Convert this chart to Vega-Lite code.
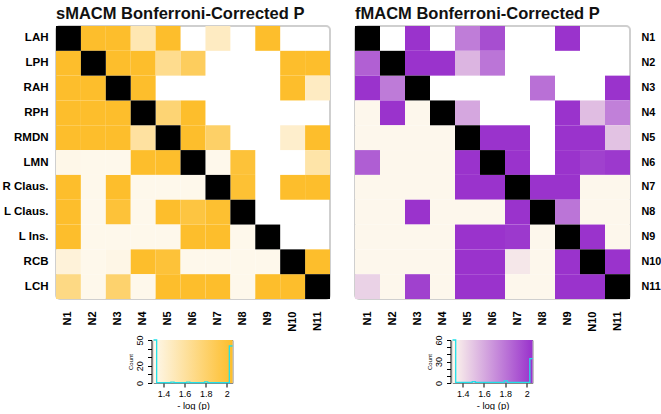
{
"$schema": "https://vega.github.io/schema/vega-lite/v6.json",
"autosize": {"type": "pad"},
"padding": {"left": 0, "top": 4, "right": 0, "bottom": 0},
"background": "white",
"config": {"font": "Liberation Sans", "view": {"stroke": null}, "axis": {"labelColor": "#000", "titleColor": "#000", "grid": false}},
"datasets": {
"s": [
{"r":"LAH","c":"N1","d":1},{"r":"LAH","c":"N2","v":2.05},{"r":"LAH","c":"N3","v":2.05},{"r":"LAH","c":"N4","v":1.53},{"r":"LAH","c":"N5","v":2.05},{"r":"LAH","c":"N7","v":1.47},{"r":"LAH","c":"N9","v":2.05},
{"r":"LPH","c":"N1","v":2.05},{"r":"LPH","c":"N2","d":1},{"r":"LPH","c":"N3","v":2.05},{"r":"LPH","c":"N4","v":2.05},{"r":"LPH","c":"N5","v":1.67},{"r":"LPH","c":"N6","v":1.86},{"r":"LPH","c":"N10","v":2.05},{"r":"LPH","c":"N11","v":2.05},
{"r":"RAH","c":"N1","v":2.05},{"r":"RAH","c":"N2","v":2.05},{"r":"RAH","c":"N3","d":1},{"r":"RAH","c":"N4","v":2.05},{"r":"RAH","c":"N10","v":2.05},{"r":"RAH","c":"N11","v":1.47},
{"r":"RPH","c":"N1","v":2.05},{"r":"RPH","c":"N2","v":2.05},{"r":"RPH","c":"N3","v":2.05},{"r":"RPH","c":"N4","d":1},{"r":"RPH","c":"N5","v":1.77},{"r":"RPH","c":"N6","v":2.05},
{"r":"RMDN","c":"N1","v":2.05},{"r":"RMDN","c":"N2","v":2.05},{"r":"RMDN","c":"N3","v":2.05},{"r":"RMDN","c":"N4","v":1.6},{"r":"RMDN","c":"N5","d":1},{"r":"RMDN","c":"N6","v":2.05},{"r":"RMDN","c":"N7","v":1.82},{"r":"RMDN","c":"N10","v":1.43},{"r":"RMDN","c":"N11","v":2.05},
{"r":"LMN","c":"N1","v":1.32},{"r":"LMN","c":"N2","v":1.31},{"r":"LMN","c":"N3","v":1.31},{"r":"LMN","c":"N4","v":2.05},{"r":"LMN","c":"N5","v":2.05},{"r":"LMN","c":"N6","d":1},{"r":"LMN","c":"N7","v":1.31},{"r":"LMN","c":"N8","v":2.0},{"r":"LMN","c":"N11","v":1.57},
{"r":"R Claus.","c":"N1","v":2.05},{"r":"R Claus.","c":"N2","v":1.31},{"r":"R Claus.","c":"N3","v":2.05},{"r":"R Claus.","c":"N4","v":1.31},{"r":"R Claus.","c":"N5","v":1.31},{"r":"R Claus.","c":"N6","v":1.31},{"r":"R Claus.","c":"N7","d":1},{"r":"R Claus.","c":"N8","v":2.02},{"r":"R Claus.","c":"N10","v":2.05},{"r":"R Claus.","c":"N11","v":2.05},
{"r":"L Claus.","c":"N1","v":2.05},{"r":"L Claus.","c":"N2","v":1.31},{"r":"L Claus.","c":"N3","v":2.0},{"r":"L Claus.","c":"N4","v":1.31},{"r":"L Claus.","c":"N5","v":2.05},{"r":"L Claus.","c":"N6","v":1.97},{"r":"L Claus.","c":"N7","v":2.03},{"r":"L Claus.","c":"N8","d":1},
{"r":"L Ins.","c":"N1","v":2.05},{"r":"L Ins.","c":"N2","v":1.31},{"r":"L Ins.","c":"N3","v":1.31},{"r":"L Ins.","c":"N4","v":1.31},{"r":"L Ins.","c":"N5","v":1.31},{"r":"L Ins.","c":"N6","v":2.05},{"r":"L Ins.","c":"N7","v":2.05},{"r":"L Ins.","c":"N8","v":1.31},{"r":"L Ins.","c":"N9","d":1},
{"r":"RCB","c":"N1","v":1.38},{"r":"RCB","c":"N2","v":1.31},{"r":"RCB","c":"N3","v":1.33},{"r":"RCB","c":"N4","v":2.05},{"r":"RCB","c":"N5","v":2.0},{"r":"RCB","c":"N6","v":1.31},{"r":"RCB","c":"N7","v":1.31},{"r":"RCB","c":"N8","v":1.31},{"r":"RCB","c":"N9","v":1.31},{"r":"RCB","c":"N10","d":1},{"r":"RCB","c":"N11","v":2.05},
{"r":"LCH","c":"N1","v":1.71},{"r":"LCH","c":"N2","v":1.31},{"r":"LCH","c":"N3","v":1.8},{"r":"LCH","c":"N4","v":1.31},{"r":"LCH","c":"N5","v":2.05},{"r":"LCH","c":"N6","v":2.05},{"r":"LCH","c":"N7","v":2.05},{"r":"LCH","c":"N8","v":1.31},{"r":"LCH","c":"N9","v":2.05},{"r":"LCH","c":"N10","v":2.05},{"r":"LCH","c":"N11","d":1}
],
"f": [
{"r":"N1","c":"N1","d":1},{"r":"N1","c":"N3","v":2.05},{"r":"N1","c":"N5","v":1.77},{"r":"N1","c":"N6","v":1.95},{"r":"N1","c":"N9","v":2.05},
{"r":"N2","c":"N1","v":1.88},{"r":"N2","c":"N2","d":1},{"r":"N2","c":"N3","v":2.05},{"r":"N2","c":"N4","v":2.05},{"r":"N2","c":"N5","v":1.56},{"r":"N2","c":"N6","v":1.8},
{"r":"N3","c":"N1","v":2.05},{"r":"N3","c":"N2","v":1.78},{"r":"N3","c":"N3","d":1},{"r":"N3","c":"N8","v":1.82},{"r":"N3","c":"N11","v":2.05},
{"r":"N4","c":"N1","v":1.31},{"r":"N4","c":"N2","v":2.05},{"r":"N4","c":"N3","v":1.31},{"r":"N4","c":"N4","d":1},{"r":"N4","c":"N5","v":1.61},{"r":"N4","c":"N9","v":2.05},{"r":"N4","c":"N10","v":1.53},{"r":"N4","c":"N11","v":1.76},
{"r":"N5","c":"N1","v":1.31},{"r":"N5","c":"N2","v":1.31},{"r":"N5","c":"N3","v":1.31},{"r":"N5","c":"N4","v":1.31},{"r":"N5","c":"N5","d":1},{"r":"N5","c":"N6","v":2.05},{"r":"N5","c":"N7","v":2.05},{"r":"N5","c":"N9","v":2.05},{"r":"N5","c":"N10","v":2.05},{"r":"N5","c":"N11","v":1.51},
{"r":"N6","c":"N1","v":1.89},{"r":"N6","c":"N2","v":1.31},{"r":"N6","c":"N3","v":1.31},{"r":"N6","c":"N4","v":1.31},{"r":"N6","c":"N5","v":2.05},{"r":"N6","c":"N6","d":1},{"r":"N6","c":"N7","v":2.05},{"r":"N6","c":"N9","v":2.05},{"r":"N6","c":"N10","v":2.0},{"r":"N6","c":"N11","v":2.03},
{"r":"N7","c":"N1","v":1.31},{"r":"N7","c":"N2","v":1.31},{"r":"N7","c":"N3","v":1.31},{"r":"N7","c":"N4","v":1.31},{"r":"N7","c":"N5","v":2.05},{"r":"N7","c":"N6","v":2.05},{"r":"N7","c":"N7","d":1},{"r":"N7","c":"N8","v":2.05},{"r":"N7","c":"N9","v":2.05},{"r":"N7","c":"N10","v":1.31},{"r":"N7","c":"N11","v":1.31},
{"r":"N8","c":"N1","v":1.31},{"r":"N8","c":"N2","v":1.31},{"r":"N8","c":"N3","v":2.05},{"r":"N8","c":"N4","v":1.31},{"r":"N8","c":"N5","v":1.31},{"r":"N8","c":"N6","v":1.31},{"r":"N8","c":"N7","v":2.05},{"r":"N8","c":"N8","d":1},{"r":"N8","c":"N9","v":1.8},{"r":"N8","c":"N10","v":1.31},{"r":"N8","c":"N11","v":1.31},
{"r":"N9","c":"N1","v":1.31},{"r":"N9","c":"N2","v":1.31},{"r":"N9","c":"N3","v":1.31},{"r":"N9","c":"N4","v":1.31},{"r":"N9","c":"N5","v":2.05},{"r":"N9","c":"N6","v":2.05},{"r":"N9","c":"N7","v":2.03},{"r":"N9","c":"N8","v":1.31},{"r":"N9","c":"N9","d":1},{"r":"N9","c":"N10","v":2.05},{"r":"N9","c":"N11","v":1.31},
{"r":"N10","c":"N1","v":1.31},{"r":"N10","c":"N2","v":1.31},{"r":"N10","c":"N3","v":1.31},{"r":"N10","c":"N4","v":1.31},{"r":"N10","c":"N5","v":2.05},{"r":"N10","c":"N6","v":2.05},{"r":"N10","c":"N7","v":1.37},{"r":"N10","c":"N8","v":1.31},{"r":"N10","c":"N9","v":2.05},{"r":"N10","c":"N10","d":1},{"r":"N10","c":"N11","v":2.05},
{"r":"N11","c":"N1","v":1.45},{"r":"N11","c":"N2","v":1.31},{"r":"N11","c":"N3","v":2.0},{"r":"N11","c":"N4","v":1.31},{"r":"N11","c":"N5","v":2.05},{"r":"N11","c":"N6","v":2.05},{"r":"N11","c":"N7","v":1.31},{"r":"N11","c":"N8","v":1.31},{"r":"N11","c":"N9","v":2.05},{"r":"N11","c":"N10","v":2.05},{"r":"N11","c":"N11","d":1}
],
"hs": [{"h":1.305,"n":50},{"h":1.335,"n":0.5},{"h":1.47,"n":1},{"h":1.5,"n":0.5},{"h":1.62,"n":1},{"h":1.65,"n":0.5},{"h":1.79,"n":1.2},{"h":1.82,"n":0.5},{"h":2.025,"n":43},{"h":2.055,"n":43}],
"hf": [{"h":1.305,"n":60},{"h":1.335,"n":1},{"h":1.49,"n":2},{"h":1.52,"n":1},{"h":1.79,"n":3},{"h":1.82,"n":1},{"h":2.03,"n":34},{"h":2.055,"n":34}]
},
"hconcat": [
{"vconcat": [
{"width": 274, "height": 273,
 "view": {"stroke": "#cfcfcf", "strokeWidth": 2, "cornerRadius": 4},
 "title": {"text": "sMACM Bonferroni-Corrected P", "anchor": "start", "frame": "group", "fontSize": 16.5, "fontWeight": "bold", "font": "Liberation Sans", "color": "#111", "offset": 4},
 "data": {"name": "s"},
 "encoding": {
  "x": {"field": "c", "type": "nominal", "scale": {"domain": ["N1","N2","N3","N4","N5","N6","N7","N8","N9","N10","N11"], "paddingInner": 0, "paddingOuter": 0}, "axis": {"title": null, "labelAngle": 270, "ticks": false, "domain": false, "labelPadding": 12, "labelFontSize": 11, "labelFontWeight": "bold"}},
  "y": {"field": "r", "type": "nominal", "scale": {"domain": ["LAH","LPH","RAH","RPH","RMDN","LMN","R Claus.","L Claus.","L Ins.","RCB","LCH"], "paddingInner": 0, "paddingOuter": 0}, "axis": {"title": null, "ticks": false, "domain": false, "labelPadding": 8, "labelFontSize": 11.5, "labelFontWeight": "bold"}}
 },
 "layer": [
  {"transform": [{"filter": "isValid(datum.v)"}], "mark": {"type": "rect"}, "encoding": {"color": {"field": "v", "type": "quantitative", "scale": {"domain": [1.305, 2.055], "range": ["#FEF8EC", "#FDBE2B"], "interpolate": "rgb", "clamp": true}, "legend": null}}},
  {"transform": [{"filter": "datum.d == 1"}], "mark": {"type": "rect", "color": "black"}}
 ]
},
{"width": 79, "height": 43,
 "view": {"stroke": "#888", "strokeWidth": 1},
 "encoding": {
  "x": {"field": "h", "type": "quantitative", "scale": {"domain": [1.305, 2.055], "nice": false, "zero": false}, "axis": {"title": "- log (p)", "values": [1.4, 1.6, 1.8, 2], "format": "~g", "labelOverlap": false, "labelFlush": false, "domain": false, "tickSize": 4, "tickColor": "#000", "labelFontSize": 9, "labelPadding": 2, "titleFontSize": 9.5, "titleFontWeight": "normal", "titlePadding": 2, "grid": false}},
  "y": {"field": "n", "type": "quantitative", "scale": {"domain": [0, 50], "nice": false}, "axis": {"title": "Count", "values": [0,10,20,30,40,50], "labelExpr": "datum.value == 0 || datum.value == 20 || datum.value == 50 ? datum.label : ''", "labelOverlap": false, "labelFlush": false, "labelAngle": 270, "labelAlign": "center", "labelBaseline": "bottom", "labelFontSize": 9, "labelPadding": 3, "tickSize": 4, "tickColor": "#000", "domainColor": "#000", "offset": 2, "titleFontSize": 6, "titleFontWeight": "normal", "titlePadding": 2, "grid": false}}
 },
 "layer": [
  {"data": {"values": [{"h": 1.305, "h2": 2.055, "n": 0, "n2": 50}]},
   "mark": {"type": "rect", "color": {"gradient": "linear", "x1": 0, "y1": 0, "x2": 1, "y2": 0, "stops": [{"offset": 0, "color": "#FEF8EC"}, {"offset": 1, "color": "#FDBE2B"}]}},
   "encoding": {"x2": {"field": "h2"}, "y2": {"field": "n2"}}},
  {"data": {"name": "hs"}, "mark": {"type": "line", "interpolate": "step-after", "color": "#22E0E8", "strokeWidth": 1.3}, "encoding": {}}
 ]
}
], "spacing": 41, "bounds": "flush", "center": true},
{"vconcat": [
{"width": 275, "height": 273,
 "view": {"stroke": "#cfcfcf", "strokeWidth": 2, "cornerRadius": 4},
 "title": {"text": "fMACM Bonferroni-Corrected P", "anchor": "start", "frame": "group", "fontSize": 16.5, "fontWeight": "bold", "font": "Liberation Sans", "color": "#111", "offset": 4},
 "data": {"name": "f"},
 "encoding": {
  "x": {"field": "c", "type": "nominal", "scale": {"domain": ["N1","N2","N3","N4","N5","N6","N7","N8","N9","N10","N11"], "paddingInner": 0, "paddingOuter": 0}, "axis": {"title": null, "labelAngle": 270, "ticks": false, "domain": false, "labelPadding": 12, "labelFontSize": 11, "labelFontWeight": "bold"}},
  "y": {"field": "r", "type": "nominal", "scale": {"domain": ["N1","N2","N3","N4","N5","N6","N7","N8","N9","N10","N11"], "paddingInner": 0, "paddingOuter": 0}, "axis": {"title": null, "orient": "right", "ticks": false, "domain": false, "labelPadding": 11, "labelFontSize": 10.8, "labelFontWeight": "bold"}}
 },
 "layer": [
  {"transform": [{"filter": "isValid(datum.v)"}], "mark": {"type": "rect"}, "encoding": {"color": {"field": "v", "type": "quantitative", "scale": {"domain": [1.305, 2.055], "range": ["#FEF8EC", "#9932CC"], "interpolate": "rgb", "clamp": true}, "legend": null}}},
  {"transform": [{"filter": "datum.d == 1"}], "mark": {"type": "rect", "color": "black"}}
 ]
},
{"width": 80, "height": 43,
 "view": {"stroke": "#888", "strokeWidth": 1},
 "encoding": {
  "x": {"field": "h", "type": "quantitative", "scale": {"domain": [1.305, 2.055], "nice": false, "zero": false}, "axis": {"title": "- log (p)", "values": [1.4, 1.6, 1.8, 2], "format": "~g", "labelOverlap": false, "labelFlush": false, "domain": false, "tickSize": 4, "tickColor": "#000", "labelFontSize": 9, "labelPadding": 2, "titleFontSize": 9.5, "titleFontWeight": "normal", "titlePadding": 2, "grid": false}},
  "y": {"field": "n", "type": "quantitative", "scale": {"domain": [0, 60], "nice": false}, "axis": {"title": "Count", "values": [0,10,20,30,40,50,60], "labelExpr": "datum.value == 0 || datum.value == 30 || datum.value == 60 ? datum.label : ''", "labelOverlap": false, "labelFlush": false, "labelAngle": 270, "labelAlign": "center", "labelBaseline": "bottom", "labelFontSize": 9, "labelPadding": 3, "tickSize": 4, "tickColor": "#000", "domainColor": "#000", "offset": 2, "titleFontSize": 6, "titleFontWeight": "normal", "titlePadding": 2, "grid": false}}
 },
 "layer": [
  {"data": {"values": [{"h": 1.305, "h2": 2.055, "n": 0, "n2": 60}]},
   "mark": {"type": "rect", "color": {"gradient": "linear", "x1": 0, "y1": 0, "x2": 1, "y2": 0, "stops": [{"offset": 0, "color": "#FEF8EC"}, {"offset": 1, "color": "#9932CC"}]}},
   "encoding": {"x2": {"field": "h2"}, "y2": {"field": "n2"}}},
  {"data": {"name": "hf"}, "mark": {"type": "line", "interpolate": "step-after", "color": "#22E0E8", "strokeWidth": 1.3}, "encoding": {}}
 ]
}
], "spacing": 41, "bounds": "flush", "center": true}
],
"spacing": 23,
"resolve": {"scale": {"color": "independent"}}
}
